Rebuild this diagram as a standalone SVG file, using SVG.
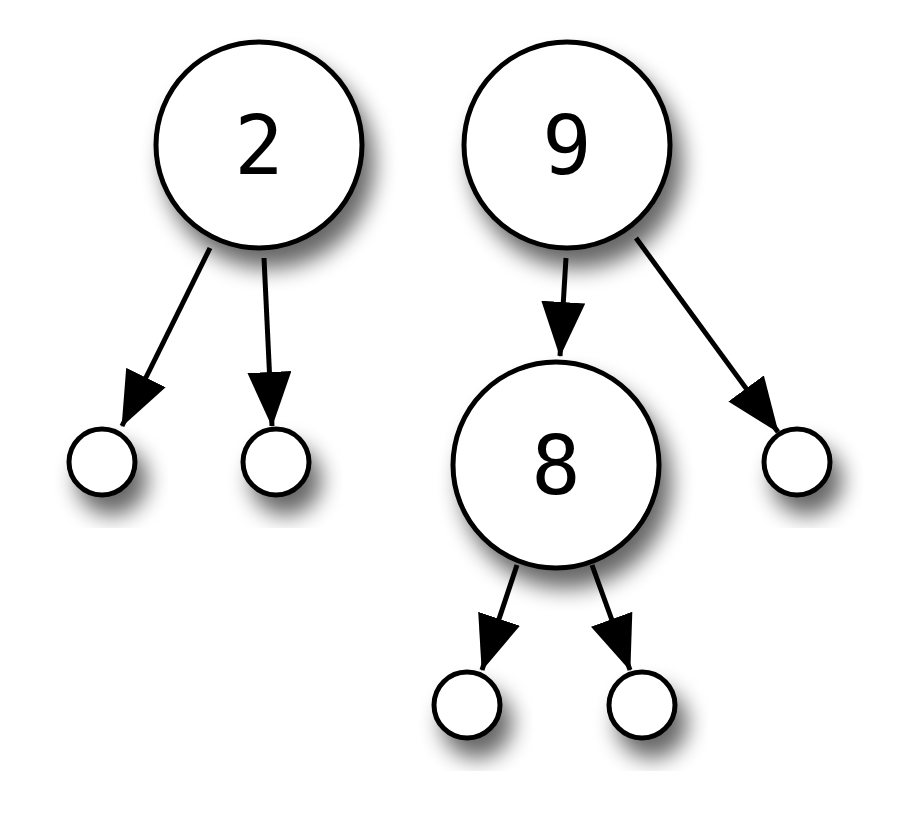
<svg xmlns="http://www.w3.org/2000/svg" width="900" height="830" viewBox="0 0 900 830">
<defs>
<filter id="sh" x="-50%" y="-50%" width="200%" height="200%">
<feGaussianBlur in="SourceAlpha" stdDeviation="11"/>
<feOffset dx="10" dy="18" result="b"/>
<feComponentTransfer><feFuncA type="linear" slope="0.6"/></feComponentTransfer>
<feMerge><feMergeNode/><feMergeNode in="SourceGraphic"/></feMerge>
</filter>
<style>
.n{fill:#fff;stroke:#000;stroke-width:5}
.t{font-family:"DejaVu Sans Mono",monospace;font-size:82px;text-anchor:middle;fill:#000}
.e{stroke:#000;stroke-width:5;fill:none}
</style>
<marker id="a" viewBox="0 0 55 44" refX="54" refY="22" markerWidth="55" markerHeight="44" markerUnits="userSpaceOnUse" orient="auto">
<path d="M0,0 L55,22 L0,44 Z" fill="#000"/>
</marker>
</defs>
<g id="connectors">
<line class="e" x1="210" y1="248" x2="122" y2="426" marker-end="url(#a)"/>
<line class="e" x1="264" y1="258" x2="272" y2="426" marker-end="url(#a)"/>
<line class="e" x1="566" y1="258" x2="560" y2="356" marker-end="url(#a)"/>
<line class="e" x1="636" y1="238" x2="778" y2="432" marker-end="url(#a)"/>
<line class="e" x1="517" y1="565" x2="482" y2="670" marker-end="url(#a)"/>
<line class="e" x1="592" y1="565" x2="630" y2="670" marker-end="url(#a)"/>
</g>
<g id="n2" filter="url(#sh)"><circle class="n" cx="259" cy="145" r="103"/><text class="t" x="259" y="174">2</text></g>
<g id="n9" filter="url(#sh)"><circle class="n" cx="567" cy="145" r="103"/><text class="t" x="567" y="174">9</text></g>
<g id="n8" filter="url(#sh)"><circle class="n" cx="556" cy="465" r="103"/><text class="t" x="556" y="494">8</text></g>
<g id="l1" filter="url(#sh)"><circle class="n" cx="102" cy="462" r="33"/></g>
<g id="l2" filter="url(#sh)"><circle class="n" cx="276" cy="462" r="33"/></g>
<g id="l3" filter="url(#sh)"><circle class="n" cx="797" cy="462" r="33"/></g>
<g id="l4" filter="url(#sh)"><circle class="n" cx="467" cy="705" r="33"/></g>
<g id="l5" filter="url(#sh)"><circle class="n" cx="642" cy="705" r="33"/></g>
</svg>
